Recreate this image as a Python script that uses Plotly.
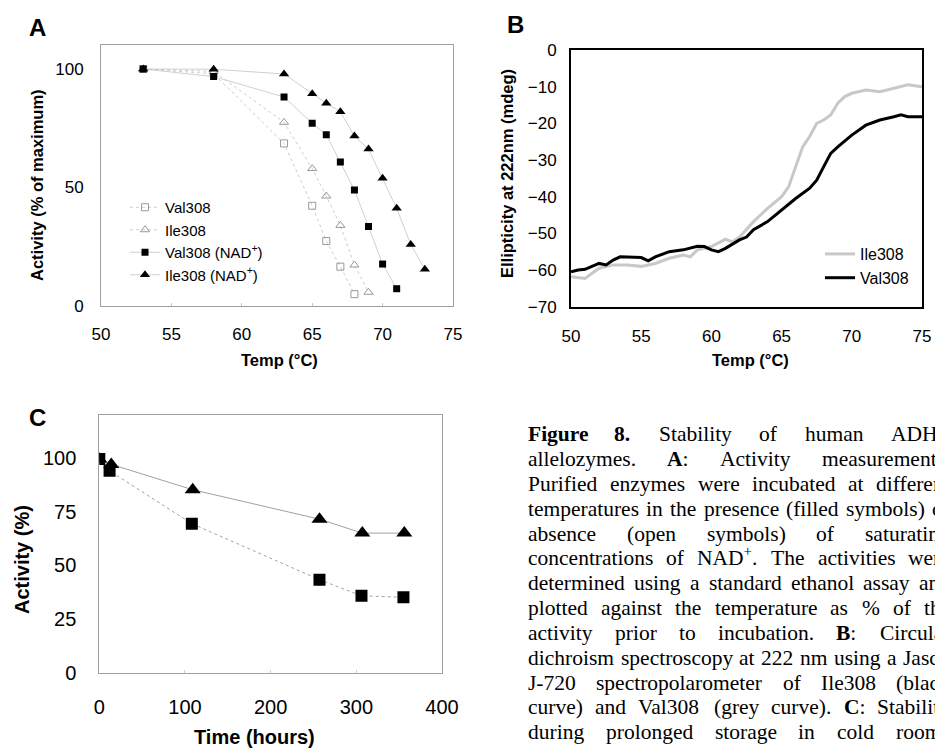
import re
import plotly.graph_objects as go

FIG_W, FIG_H = 935, 750

# ---------------- Panel A data (Temp °C vs activity %) ----------------
A_temp_val = [53, 58, 63, 65, 66, 67, 68]
A_val308 = [100, 98, 68.6, 42.3, 27.4, 16.6, 5]
A_temp_ile = [53, 58, 63, 65, 66, 67, 68, 69]
A_ile308 = [100, 99, 77.5, 58, 46.4, 34, 17.3, 5.8]
A_temp_val_nad = [53, 58, 63, 65, 66, 67, 68, 69, 70, 71]
A_val308_nad = [100, 96.8, 88.2, 77.1, 72.3, 60.8, 48.9, 33.5, 17.7, 7.3]
A_temp_ile_nad = [53, 58, 63, 65, 66, 67, 68, 69, 70, 71, 72, 73]
A_ile308_nad = [100, 99.9, 97.9, 89.6, 85.5, 82, 71.7, 66.2, 53.9, 41.2, 26, 15.5]

# ---------------- Panel B data (CD ellipticity) ----------------
B_temp_ile = [50, 51, 52, 53, 54, 55, 56, 57, 58, 58.5, 59, 60, 61, 61.5, 62, 63, 64, 65,
              65.5, 66, 66.5, 67, 67.5, 68, 68.5, 69, 69.5, 70, 71, 72, 73, 74, 75]
B_ile308 = [-61.8, -62.3, -59.5, -58.6, -58.6, -59, -58.2, -56.8, -55.9, -56.4, -54.5, -53.6,
            -51.6, -52.3, -51, -46.8, -43.2, -40, -37.3, -31.8, -26.4, -23.6, -20, -19.1, -17.7,
            -14.5, -12.7, -11.8, -10.9, -11.4, -10.5, -9.5, -10]
B_temp_val = [50, 50.5, 51, 52, 52.5, 53, 53.5, 54, 55, 55.5, 56, 57, 58, 59, 59.5, 60, 60.5,
              61, 62, 62.5, 63, 64, 65, 66, 67, 67.5, 68, 68.5, 69, 70, 71, 72, 73, 73.5, 74, 75]
B_val308 = [-60.5, -60, -59.8, -58.2, -58.6, -57.3, -56.4, -56.4, -56.6, -57.5, -56.4, -55,
            -54.5, -53.5, -53.6, -54.5, -55, -54.1, -51.8, -51, -49, -46.8, -43.6, -40.5,
            -37.7, -35.5, -31.8, -28.2, -26.4, -23.2, -20.5, -19.1, -18.2, -17.7, -18.2, -18.2]

# ---------------- Panel C data (storage time) ----------------
C_time_val = [0, 12, 108, 257, 306, 355]
C_val308 = [99.5, 94, 69.4, 43.3, 35.8, 35.1]
C_time_ile = [0, 14, 109, 257, 307, 356]
C_ile308 = [99.5, 97, 85.2, 71.5, 65, 65]

A_xticks = [50, 55, 60, 65, 70, 75]
A_yticks = [0, 50, 100]
B_yticks = [0, -10, -20, -30, -40, -50, -60, -70]
C_xticks = [0, 100, 200, 300, 400]
C_yticks = [0, 25, 50, 75, 100]

CAPTION_LINES = [
    "<b>Figure</b> <b>8.</b> Stability of human ADH",
    "allelozymes. <b>A</b>: Activity measurements.",
    "Purified enzymes were incubated at different",
    "temperatures in the presence (filled symbols) or",
    "absence (open symbols) of saturating",
    "concentrations of NAD<sup>+</sup>. The activities were",
    "determined using a standard ethanol assay and",
    "plotted against the temperature as % of the",
    "activity prior to incubation. <b>B</b>: Circular",
    "dichroism spectroscopy at 222 nm using a Jasco",
    "J-720 spectropolarometer of Ile308 (black",
    "curve) and Val308 (grey curve). <b>C</b>: Stability",
    "during prolonged storage in cold room",
]


def px(x):
    return x / FIG_W


def py(y):
    return 1 - y / FIG_H


# Times metrics (per 1000 em) for justification of the caption
TNR = {' ': 250, '%': 833, '(': 333, ')': 333, '+': 564, ',': 250, '-': 333, '.': 250,
       ':': 278, 'A': 722, 'B': 667, 'C': 667, 'D': 722, 'E': 611, 'F': 556, 'G': 722,
       'H': 722, 'I': 333, 'J': 389, 'K': 722, 'L': 611, 'M': 889, 'N': 722, 'O': 722,
       'P': 556, 'Q': 722, 'R': 667, 'S': 556, 'T': 611, 'U': 722, 'V': 722, 'W': 944,
       'X': 722, 'Y': 722, 'Z': 611, 'a': 444, 'b': 500, 'c': 444, 'd': 500, 'e': 444,
       'f': 333, 'g': 500, 'h': 500, 'i': 278, 'j': 278, 'k': 500, 'l': 278, 'm': 778,
       'n': 500, 'o': 500, 'p': 500, 'q': 500, 'r': 333, 's': 389, 't': 278, 'u': 500,
       'v': 500, 'w': 722, 'x': 500, 'y': 500, 'z': 444}


def word_width(word, size):
    total = 0.0
    for m in re.finditer(r'<sup>(.*?)</sup>|<[^>]+>|([^<]+)', word):
        if m.group(1) is not None:
            total += sum(TNR.get(c, 500) for c in m.group(1)) * 0.7
        elif m.group(2) is not None:
            total += sum(TNR.get(c, 500) for c in m.group(2))
    if '<b>' in word:
        total *= 1.04
    return total * size / 1000.0


fig = go.Figure()

# Panel A
fig.add_trace(go.Scatter(x=A_temp_val, y=A_val308, name='Val308', mode='lines+markers',
                         marker=dict(symbol='square-open', size=7, color='#9a9a9a', line=dict(width=1)),
                         line=dict(color='#cccccc', width=1, dash='dot'),
                         xaxis='x', yaxis='y', legend='legend'))
fig.add_trace(go.Scatter(x=A_temp_ile, y=A_ile308, name='Ile308', mode='lines+markers',
                         marker=dict(symbol='triangle-up-open', size=8, color='#9a9a9a', line=dict(width=1)),
                         line=dict(color='#cccccc', width=1, dash='dot'),
                         xaxis='x', yaxis='y', legend='legend'))
fig.add_trace(go.Scatter(x=A_temp_val_nad, y=A_val308_nad, name='Val308 (NAD<sup>+</sup>)',
                         mode='lines+markers',
                         marker=dict(symbol='square', size=7, color='black'),
                         line=dict(color='#c4c4c4', width=0.8),
                         xaxis='x', yaxis='y', legend='legend'))
fig.add_trace(go.Scatter(x=A_temp_ile_nad, y=A_ile308_nad, name='Ile308 (NAD<sup>+</sup>)',
                         mode='lines+markers',
                         marker=dict(symbol='triangle-up', size=9, color='black'),
                         line=dict(color='#c4c4c4', width=0.8),
                         xaxis='x', yaxis='y', legend='legend'))

# Panel B
fig.add_trace(go.Scatter(x=B_temp_ile, y=B_ile308, name='Ile308', mode='lines',
                         line=dict(color='#c8c8c8', width=3),
                         xaxis='x2', yaxis='y2', legend='legend2'))
fig.add_trace(go.Scatter(x=B_temp_val, y=B_val308, name='Val308', mode='lines',
                         line=dict(color='black', width=3),
                         xaxis='x2', yaxis='y2', legend='legend2'))

# Panel C
fig.add_trace(go.Scatter(x=C_time_ile, y=C_ile308, name='Ile308', mode='lines+markers',
                         marker=dict(symbol='triangle-up', size=14, color='black'),
                         line=dict(color='#a0a0a0', width=1),
                         xaxis='x3', yaxis='y3', showlegend=False))
fig.add_trace(go.Scatter(x=C_time_val, y=C_val308, name='Val308', mode='lines+markers',
                         marker=dict(symbol='square', size=12, color='black'),
                         line=dict(color='#a0a0a0', width=1, dash='dot'),
                         xaxis='x3', yaxis='y3', showlegend=False))

tickA = dict(family='Arial', size=17, color='black')
tickC = dict(family='Arial', size=20, color='black')

layout = dict(
    width=FIG_W, height=FIG_H,
    margin=dict(l=0, r=0, t=0, b=0),
    paper_bgcolor='white', plot_bgcolor='white',
    font=dict(family='Arial', color='black'),
    # Panel A axes
    xaxis=dict(domain=[px(101), px(453)], range=[50, 75], tickvals=A_xticks, anchor='y',
               showline=True, linecolor='#a0a0a0', linewidth=1, mirror=True,
               ticks='inside', ticklen=3, tickcolor='#c8c8c8', showgrid=False, zeroline=False,
               tickfont=tickA, ticklabelstandoff=13, automargin=False),
    yaxis=dict(domain=[py(306), py(45.3)], range=[0, 110], tickvals=A_yticks, anchor='x',
               showline=True, linecolor='#a0a0a0', linewidth=1, mirror=True,
               ticks='', showgrid=False, zeroline=False,
               tickfont=tickA, ticklabelstandoff=13, automargin=False),
    # Panel B axes
    xaxis2=dict(domain=[px(571), px(922)], range=[50, 75], tickvals=A_xticks, anchor='y2',
                showline=True, linecolor='black', linewidth=2, mirror=True,
                ticks='', showgrid=False, zeroline=False,
                tickfont=tickA, ticklabelstandoff=13, automargin=False),
    xaxis4=dict(overlaying='x2', side='top', anchor='y2', range=[50, 75], tickvals=A_xticks,
                showticklabels=False, ticks='inside', ticklen=5, tickwidth=2, tickcolor='black',
                showline=False, showgrid=False, zeroline=False, automargin=False),
    yaxis2=dict(domain=[py(306.7), py(50)], range=[-70, 0], tickvals=B_yticks, anchor='x2',
                showline=True, linecolor='black', linewidth=2, mirror=True,
                ticks='', showgrid=False, zeroline=False,
                tickfont=tickA, ticklabelstandoff=9, automargin=False),
    # Panel C axes
    xaxis3=dict(domain=[px(99.3), px(442)], range=[0, 400], tickvals=C_xticks, anchor='y3',
                showline=True, linecolor='#a0a0a0', linewidth=1, mirror=True,
                ticks='inside', ticklen=3, tickcolor='#d0d0d0', showgrid=False, zeroline=False,
                tickfont=tickC, ticklabelstandoff=16, automargin=False),
    yaxis3=dict(domain=[py(672.7), py(415)], range=[0, 120], tickvals=C_yticks, anchor='x3',
                showline=True, linecolor='#a0a0a0', linewidth=1, mirror=True,
                ticks='', showgrid=False, zeroline=False,
                tickfont=tickC, ticklabelstandoff=18, automargin=False),
    legend=dict(x=px(125), y=py(191), xanchor='left', yanchor='top',
                bgcolor='rgba(0,0,0,0)', font=dict(family='Arial', size=15, color='black'),
                tracegroupgap=0, borderwidth=0),
    legend2=dict(x=px(820), y=py(237), xanchor='left', yanchor='top',
                 bgcolor='rgba(0,0,0,0)', font=dict(family='Arial', size=16, color='black'),
                 tracegroupgap=0, borderwidth=0),
)

annotations = []


def label(text, x, y, size, angle=0, bold=True):
    annotations.append(dict(text=('<b>%s</b>' % text) if bold else text,
                            x=px(x), y=py(y), xref='paper', yref='paper',
                            xanchor='center', yanchor='middle', showarrow=False,
                            textangle=angle, borderpad=0, borderwidth=0,
                            font=dict(family='Arial', size=size, color='black')))


# panel letters
label('A', 37, 27, 24)
label('B', 515, 25, 24)
label('C', 37, 417, 24)
# axis titles
label('Activity (% of maximum)', 37, 185, 16.5, angle=-90)
label('Temp (°C)', 279, 360, 16.5)
label('Ellipticity at 222nm (mdeg)', 507, 174, 16.5, angle=-90)
label('Temp (°C)', 750, 360, 16.5)
label('Activity (%)', 22, 560, 20, angle=-90)
label('Time (hours)', 254, 737, 20)

# caption, justified word by word
CAP_LEFT = 528
CAP_RIGHT = [938] + [950] * 11 + [941]
CAP_BASE0 = 441.5
CAP_PITCH = 24.85
CAP_SIZE = 21.5
for i, line in enumerate(CAPTION_LINES):
    words = line.split(' ')
    widths = [word_width(w, CAP_SIZE) for w in words]
    gap = (CAP_RIGHT[i] - CAP_LEFT - sum(widths)) / (len(words) - 1)
    x = CAP_LEFT
    base = CAP_BASE0 + i * CAP_PITCH
    for w, wd in zip(words, widths):
        annotations.append(dict(text=w, x=px(x), y=py(base + 0.216 * CAP_SIZE),
                                xref='paper', yref='paper', xanchor='left', yanchor='bottom',
                                showarrow=False, borderpad=0, borderwidth=0,
                                font=dict(family='Liberation Serif', size=CAP_SIZE, color='black')))
        x += wd + gap

layout['annotations'] = annotations
fig.update_layout(**layout)
fig.write_html('out.html',
               config={'displayModeBar': False},
               post_script="document.body.style.margin='0px';document.body.style.overflow='hidden';")
